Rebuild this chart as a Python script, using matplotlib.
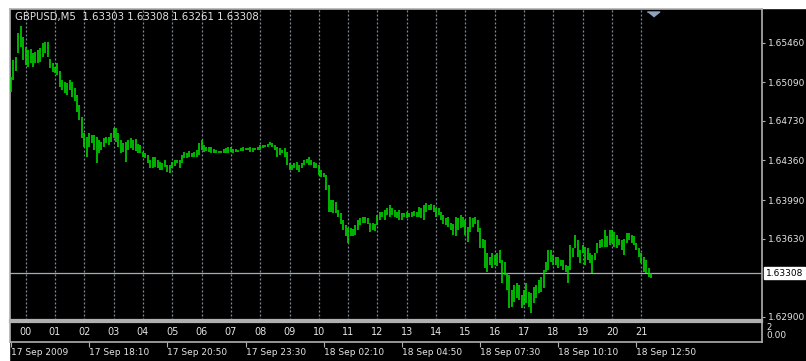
import matplotlib
matplotlib.use('Agg')
import matplotlib.pyplot as plt
import matplotlib.transforms as mtransforms
from matplotlib.patches import Rectangle

# chart data (GBPUSD M5, bar highs / lows)
symbol = 'GBPUSD,M5'
last_ohlc = [1.63303, 1.63308, 1.63261, 1.63308]

highs = [
    1.6514, 1.6530, 1.6533, 1.6555, 1.6562, 1.6551, 1.6542, 1.6539, 1.6540, 1.6536,
    1.6537, 1.6539, 1.6541, 1.6546, 1.6547, 1.6547, 1.6531, 1.6527, 1.6523, 1.6527,
    1.6520, 1.6511, 1.6509, 1.6508, 1.6511, 1.6509, 1.6504, 1.6497, 1.6488, 1.6477,
    1.6462, 1.6458, 1.6462, 1.6460, 1.6460, 1.6458, 1.6455, 1.6453, 1.6457, 1.6458,
    1.6458, 1.6462, 1.6466, 1.6466, 1.6462, 1.6455, 1.6452, 1.6453, 1.6455, 1.6457,
    1.6455, 1.6456, 1.6451, 1.6450, 1.6444, 1.6443, 1.6441, 1.6436, 1.6439, 1.6439,
    1.6436, 1.6435, 1.6434, 1.6436, 1.6432, 1.6432, 1.6435, 1.6436, 1.6436, 1.6436,
    1.6441, 1.6444, 1.6443, 1.6445, 1.6443, 1.6444, 1.6446, 1.6452, 1.6455, 1.6450,
    1.6449, 1.6449, 1.6449, 1.6447, 1.6446, 1.6445, 1.6445, 1.6447, 1.6448, 1.6449,
    1.6449, 1.6447, 1.6447, 1.6446, 1.6448, 1.6449, 1.6448, 1.6448, 1.6449, 1.6448,
    1.6448, 1.6449, 1.6450, 1.6450, 1.6450, 1.6451, 1.6453, 1.6452, 1.6450, 1.6449,
    1.6448, 1.6446, 1.6448, 1.6444, 1.6434, 1.6432, 1.6434, 1.6435, 1.6432, 1.6434,
    1.6436, 1.6437, 1.6439, 1.6436, 1.6435, 1.6434, 1.6432, 1.6427, 1.6424, 1.6422,
    1.6413, 1.6399, 1.6399, 1.6397, 1.6390, 1.6387, 1.6380, 1.6376, 1.6373, 1.6373,
    1.6372, 1.6376, 1.6380, 1.6382, 1.6383, 1.6383, 1.6382, 1.6378, 1.6378, 1.6377,
    1.6385, 1.6388, 1.6388, 1.6390, 1.6392, 1.6394, 1.6392, 1.6390, 1.6388, 1.6390,
    1.6387, 1.6387, 1.6388, 1.6387, 1.6388, 1.6389, 1.6388, 1.6393, 1.6392, 1.6394,
    1.6396, 1.6394, 1.6395, 1.6394, 1.6392, 1.6392, 1.6388, 1.6385, 1.6382, 1.6383,
    1.6378, 1.6377, 1.6383, 1.6382, 1.6385, 1.6383, 1.6380, 1.6374, 1.6383, 1.6382,
    1.6383, 1.6380, 1.6373, 1.6363, 1.6362, 1.6350, 1.6346, 1.6350, 1.6348, 1.6350,
    1.6352, 1.6343, 1.6341, 1.6331, 1.6329, 1.6315, 1.6320, 1.6322, 1.6320, 1.6310,
    1.6315, 1.6322, 1.6313, 1.6312, 1.6318, 1.6320, 1.6324, 1.6327, 1.6334, 1.6341,
    1.6352, 1.6352, 1.6348, 1.6346, 1.6346, 1.6343, 1.6343, 1.6338, 1.6337, 1.6357,
    1.6354, 1.6366, 1.6362, 1.6352, 1.6357, 1.6355, 1.6354, 1.6350, 1.6348, 1.6350,
    1.6359, 1.6362, 1.6363, 1.6371, 1.6365, 1.6371, 1.6371, 1.6369, 1.6366, 1.6363,
    1.6362, 1.6363, 1.6368, 1.6368, 1.6366, 1.6365, 1.6359, 1.6354, 1.6350, 1.6346,
    1.6343, 1.6336, 1.63308,
]

lows = [
    1.6500, 1.6511, 1.6520, 1.6536, 1.6542, 1.6530, 1.6525, 1.6523, 1.6527, 1.6523,
    1.6527, 1.6527, 1.6528, 1.6533, 1.6536, 1.6533, 1.6522, 1.6519, 1.6518, 1.6516,
    1.6505, 1.6502, 1.6499, 1.6497, 1.6502, 1.6495, 1.6492, 1.6481, 1.6474, 1.6457,
    1.6449, 1.6439, 1.6449, 1.6452, 1.6446, 1.6434, 1.6443, 1.6446, 1.6449, 1.6452,
    1.6450, 1.6453, 1.6457, 1.6453, 1.6449, 1.6443, 1.6444, 1.6435, 1.6446, 1.6448,
    1.6446, 1.6445, 1.6443, 1.6443, 1.6439, 1.6438, 1.6434, 1.6429, 1.6429, 1.6430,
    1.6429, 1.6427, 1.6427, 1.6430, 1.6425, 1.6424, 1.6429, 1.6431, 1.6434, 1.6429,
    1.6434, 1.6438, 1.6438, 1.6439, 1.6439, 1.6439, 1.6439, 1.6441, 1.6446, 1.6444,
    1.6445, 1.6444, 1.6443, 1.6443, 1.6443, 1.6443, 1.6443, 1.6443, 1.6443, 1.6443,
    1.6444, 1.6443, 1.6444, 1.6444, 1.6445, 1.6445, 1.6446, 1.6446, 1.6444, 1.6444,
    1.6446, 1.6446, 1.6446, 1.6448, 1.6449, 1.6449, 1.6450, 1.6449, 1.6446, 1.6439,
    1.6441, 1.6443, 1.6439, 1.6432, 1.6427, 1.6427, 1.6429, 1.6427, 1.6425, 1.6429,
    1.6432, 1.6434, 1.6432, 1.6432, 1.6429, 1.6429, 1.6422, 1.6421, 1.6421, 1.6408,
    1.6388, 1.6388, 1.6387, 1.6387, 1.6383, 1.6377, 1.6371, 1.6365, 1.6359, 1.6365,
    1.6365, 1.6366, 1.6371, 1.6376, 1.6378, 1.6378, 1.6377, 1.6369, 1.6371, 1.6370,
    1.6376, 1.6380, 1.6383, 1.6380, 1.6385, 1.6383, 1.6385, 1.6383, 1.6382, 1.6380,
    1.6380, 1.6383, 1.6382, 1.6383, 1.6383, 1.6384, 1.6383, 1.6383, 1.6382, 1.6380,
    1.6388, 1.6390, 1.6390, 1.6388, 1.6383, 1.6385, 1.6380, 1.6377, 1.6376, 1.6374,
    1.6371, 1.6366, 1.6365, 1.6371, 1.6373, 1.6374, 1.6366, 1.6360, 1.6369, 1.6374,
    1.6377, 1.6369, 1.6354, 1.6354, 1.6336, 1.6332, 1.6338, 1.6336, 1.6338, 1.6337,
    1.6340, 1.6322, 1.6329, 1.6315, 1.6298, 1.6299, 1.6304, 1.6308, 1.6306, 1.6298,
    1.6301, 1.6303, 1.6299, 1.6294, 1.6303, 1.6308, 1.6312, 1.6313, 1.6317, 1.6332,
    1.6334, 1.6341, 1.6338, 1.6338, 1.6336, 1.6337, 1.6334, 1.6332, 1.6322, 1.6334,
    1.6346, 1.6354, 1.6346, 1.6340, 1.6350, 1.6338, 1.6343, 1.6340, 1.6331, 1.6343,
    1.6350, 1.6354, 1.6355, 1.6355, 1.6355, 1.6357, 1.6359, 1.6355, 1.6354, 1.6357,
    1.6352, 1.6348, 1.6359, 1.6362, 1.6359, 1.6357, 1.6352, 1.6346, 1.6340, 1.6332,
    1.6331, 1.6327, 1.63261,
]

hour_labels = ['00', '01', '02', '03', '04', '05', '06', '07', '08', '09', '10',
               '11', '12', '13', '14', '15', '16', '17', '18', '19', '20', '21']
first_hour_bar = 6
bars_per_hour = 12

date_labels = ['17 Sep 2009', '17 Sep 18:10', '17 Sep 20:50', '17 Sep 23:30',
               '18 Sep 02:10', '18 Sep 04:50', '18 Sep 07:30', '18 Sep 10:10',
               '18 Sep 12:50']
bars_per_date_label = 32

price_ticks = [1.65460, 1.65090, 1.64730, 1.64360, 1.63990, 1.63630, 1.62900]
indicator_labels = ['2', '0.00']

# colours
bar_color = '#00dd00'
grid_color = '#7d8893'
frame_color = '#b0b0b0'
text_color = '#e4e4e4'

W, H = 806, 361
fig = plt.figure(figsize=(W / 100, H / 100), dpi=100, facecolor='black')
fig.add_artist(Rectangle((0, 1 - 8 / H), 1, 8 / H, transform=fig.transFigure,
                         color='white', zorder=-5))
fig.add_artist(Rectangle((0, 0), 9 / W, 1, transform=fig.transFigure,
                         color='white', zorder=-5))

# main price window
ax = fig.add_axes([10 / W, 1 - 320 / H, 752 / W, 311 / H], facecolor='black')
x = list(range(len(highs)))
ax.vlines(x, lows, highs, colors=bar_color, linewidth=1.15, zorder=3)
ax.set_xlim(-0.41, 307.4)
ax.set_ylim(1.62870, 1.65775)

for k in range(len(hour_labels)):
    ax.axvline(first_hour_bar + k * bars_per_hour, color=grid_color,
               linestyle=(0, (1.6, 1.6)), linewidth=0.9, zorder=1)

ax.axhline(last_ohlc[3], color='#a3adb8', linewidth=0.9, zorder=2)

for s in ax.spines.values():
    s.set_color(frame_color)
    s.set_linewidth(1.2)
ax.spines['bottom'].set_linewidth(1.6)

ax.set_xticks([])
ax.yaxis.tick_right()
ax.set_yticks(price_ticks)
ax.set_yticklabels([f'{p:.5f}' for p in price_ticks])
ax.tick_params(axis='y', direction='out', length=2.5, width=0.8, color=frame_color,
               labelcolor=text_color, labelsize=6.5, pad=1.5)

title = symbol + '  ' + ' '.join(f'{v:.5f}' for v in last_ohlc)
ax.text(5 / 752, 1 - 8 / 311, title, transform=ax.transAxes, color=text_color,
        fontsize=7.3, ha='left', va='center')

# current price label on the price scale
trans = mtransforms.blended_transform_factory(ax.transAxes, ax.transData)
ax.text(1 + 4 / 752, last_ohlc[3], f'{last_ohlc[3]:.5f}', transform=trans,
        ha='left', va='center', fontsize=6.5, color='black', clip_on=False,
        bbox=dict(boxstyle='square,pad=0.2', fc='white', ec='white'), zorder=5)

# chart shift marker
ax.scatter([0.855], [0.985], marker=[(-1, 0.4), (1, 0.4), (0, -0.4)], s=80,
           color='#8fa3bd', transform=ax.transAxes, clip_on=False, zorder=6)

# indicator window with hour numbers
ax2 = fig.add_axes([10 / W, 1 - 342 / H, 752 / W, 20 / H], facecolor='black')
ax2.set_xlim(-0.41, 307.4)
ax2.set_ylim(0, 1)
ax2.set_yticks([])
for s in ax2.spines.values():
    s.set_color(frame_color)
    s.set_linewidth(1.2)
ax2.spines['top'].set_linewidth(1.6)

for k, lab in enumerate(hour_labels):
    ax2.text(first_hour_bar + k * bars_per_hour, 0.5, lab, ha='center', va='center',
             color=text_color, fontsize=7)

ax2.text(1 + 4 / 752, 0.72, indicator_labels[0], transform=ax2.transAxes,
         ha='left', va='center', fontsize=6, color=text_color, clip_on=False)
ax2.text(1 + 4 / 752, 0.32, indicator_labels[1], transform=ax2.transAxes,
         ha='left', va='center', fontsize=6.5, color=text_color, clip_on=False)

ax2.set_xticks([i * bars_per_date_label for i in range(len(date_labels))])
ax2.set_xticklabels(date_labels, ha='left')
ax2.tick_params(axis='x', direction='out', length=3.5, width=0.8, color=frame_color,
                labelcolor=text_color, labelsize=6.5, pad=1)

fig.savefig('out.png', dpi=100, facecolor=fig.get_facecolor())
